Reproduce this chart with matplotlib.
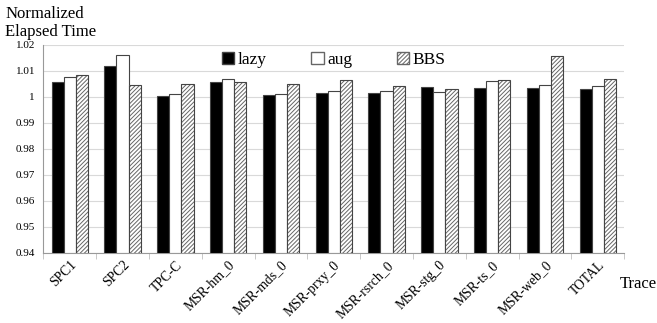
import matplotlib.pyplot as plt
from matplotlib.patches import Patch
import numpy as np

plt.rcParams['font.family'] = ['Liberation Serif', 'DejaVu Serif']
plt.rcParams['hatch.linewidth'] = 0.7

# Data
traces = ['SPC1', 'SPC2', 'TPC-C', 'MSR-hm_0', 'MSR-mds_0', 'MSR-prxy_0',
          'MSR-rsrch_0', 'MSR-stg_0', 'MSR-ts_0', 'MSR-web_0', 'TOTAL']
lazy = [1.0056, 1.0118, 1.0002, 1.0056, 1.0006, 1.0014,
        1.0015, 1.0038, 1.0035, 1.0035, 1.0029]
aug = [1.0075, 1.0160, 1.0011, 1.0069, 1.0013, 1.0023,
       1.0023, 1.0020, 1.0060, 1.0046, 1.0041]
bbs = [1.0086, 1.0047, 1.0051, 1.0059, 1.0049, 1.0064,
       1.0040, 1.0029, 1.0065, 1.0158, 1.0067]

fig = plt.figure(figsize=(6.57, 3.23), dpi=100)
ax = fig.add_axes([0.066, 0.217, 0.884, 0.644])

x = np.arange(len(traces))
w = 0.23
base = 0.94

ax.bar(x - w, np.array(lazy) - base, w, bottom=base, color='black',
       edgecolor='#444444', linewidth=0.8, zorder=3)
ax.bar(x, np.array(aug) - base, w, bottom=base, color='white',
       edgecolor='#444444', linewidth=0.8, zorder=3)
# hatch in grey, then outline on top
ax.bar(x + w, np.array(bbs) - base, w, bottom=base, color='white',
       edgecolor='#666666', hatch='////////', linewidth=0, zorder=3)
ax.bar(x + w, np.array(bbs) - base, w, bottom=base, color='none',
       edgecolor='#444444', linewidth=0.8, zorder=4)

ax.set_ylim(0.94, 1.02)
ax.set_xlim(-0.5, len(traces) - 0.5)
yt = np.arange(0.94, 1.0201, 0.01)
ax.set_yticks(yt)
ax.set_yticklabels(['%g' % round(v, 2) for v in yt], fontsize=8)
ax.yaxis.grid(True, color='#d9d9d9', linewidth=0.8, zorder=0)
ax.tick_params(axis='y', length=0, pad=6)

ax.set_xticks(x)
ax.set_xticklabels(traces, rotation=45, ha='right', rotation_mode='anchor',
                   fontsize=9.8)
ax.tick_params(axis='x', length=0, pad=4)
ax.set_xticks(np.arange(-0.5, len(traces), 1), minor=True)
ax.tick_params(axis='x', which='minor', length=4, color='#bfbfbf')

for s in ['top', 'right']:
    ax.spines[s].set_visible(False)
ax.spines['left'].set_color('#999999')
ax.spines['bottom'].set_color('#999999')

handles = [Patch(facecolor='black', edgecolor='#444444', label='lazy'),
           Patch(facecolor='white', edgecolor='#666666', label='aug'),
           Patch(facecolor='white', edgecolor='#666666', hatch='////////',
                 label='BBS')]
ax.legend(handles=handles, loc='upper center', bbox_to_anchor=(0.5, 1.04),
          ncol=3, frameon=False, fontsize=12.5, handlelength=0.7,
          handleheight=0.7, handletextpad=0.2, columnspacing=2.6)

fig.text(0.008, 0.945, 'Normalized', fontsize=12, ha='left', va='baseline')
fig.text(0.008, 0.89, 'Elapsed Time', fontsize=12, ha='left', va='baseline')
fig.text(0.943, 0.12, 'Trace', fontsize=12, ha='left', va='center')

fig.savefig('out.png', dpi=100)
